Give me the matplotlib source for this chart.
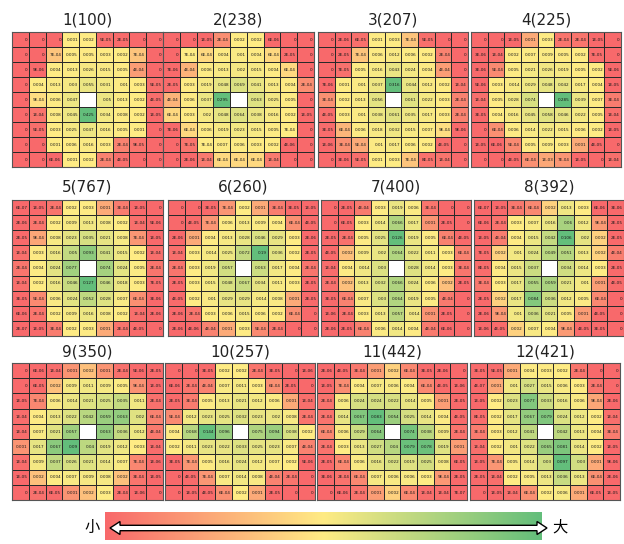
import numpy as np
import matplotlib
matplotlib.use("Agg")
import matplotlib.pyplot as plt
from matplotlib.colors import LinearSegmentedColormap, TwoSlopeNorm
from matplotlib.patches import Polygon

nan = np.nan

titles = ["1(100)", "2(238)", "3(207)", "4(225)",
          "5(767)", "6(260)", "7(400)", "8(392)",
          "9(350)", "10(257)", "11(442)", "12(421)"]

p1 = [[0, 0, 0, 0.001, 0.002, 5e-05, 2e-05, 0, 0],
      [0, 0, 7e-04, 0.005, 0.005, 0.003, 0.002, 7e-04, 0],
      [0, 9e-06, 0.004, 0.013, 0.026, 0.015, 0.005, 4e-04, 0],
      [0, 0.004, 0.013, 0.03, 0.055, 0.031, 0.01, 0.003, 5e-05],
      [0, 9e-04, 0.006, 0.047, nan, 0.05, 0.013, 0.002, 4e-05],
      [0, 1e-04, 0.008, 0.045, 0.425, 0.034, 0.008, 0.002, 1e-05],
      [0, 5e-05, 0.003, 0.025, 0.047, 0.016, 0.005, 0.001, 0],
      [0, 0, 0.001, 0.006, 0.016, 0.003, 2e-04, 9e-05, 0],
      [0, 0, 6e-06, 0.001, 0.002, 2e-04, 4e-05, 0, 0]]

p2 = [[0, 0, 1e-05, 2e-04, 0.002, 0.002, 6e-06, 0, 0],
      [0, 7e-04, 6e-04, 0.004, 0.01, 0.004, 6e-04, 2e-05, 0],
      [7e-06, 4e-04, 0.006, 0.013, 0.02, 0.015, 0.004, 6e-04, 0],
      [2e-05, 0.003, 0.019, 0.048, 0.069, 0.041, 0.013, 0.004, 2e-04],
      [4e-04, 0.006, 0.037, 0.295, nan, 0.063, 0.025, 0.005, 0],
      [6e-04, 0.003, 0.02, 0.048, 0.064, 0.038, 0.016, 0.002, 1e-05],
      [7e-06, 6e-04, 0.006, 0.019, 0.023, 0.015, 0.005, 7e-04, 0],
      [0, 7e-05, 7e-04, 0.007, 0.006, 0.003, 0.002, 4e-06, 0],
      [0, 2e-06, 1e-04, 6e-04, 6e-04, 6e-04, 1e-04, 0, 0]]

p3 = [[0, 2e-06, 6e-05, 0.001, 0.003, 7e-04, 5e-05, 0, 0],
      [0, 2e-05, 7e-04, 0.006, 0.012, 0.006, 0.002, 2e-04, 0],
      [0, 7e-05, 0.005, 0.016, 0.043, 0.024, 0.004, 4e-04, 0],
      [7e-06, 0.001, 0.01, 0.037, 0.316, 0.044, 0.012, 0.002, 1e-04],
      [3e-04, 0.002, 0.013, 0.056, nan, 0.061, 0.022, 0.003, 2e-04],
      [4e-05, 0.003, 0.01, 0.038, 0.061, 0.035, 0.017, 0.003, 2e-04],
      [3e-05, 6e-04, 0.006, 0.018, 0.032, 0.015, 0.007, 9e-04, 9e-06],
      [1e-06, 3e-04, 5e-04, 0.01, 0.017, 0.006, 0.002, 4e-05, 0],
      [0, 3e-06, 5e-05, 0.001, 0.003, 7e-04, 8e-05, 1e-04, 0]]

p4 = [[0, 0, 1e-05, 0.001, 0.003, 2e-04, 2e-04, 1e-05, 0],
      [3e-06, 1e-04, 0.002, 0.007, 0.009, 0.005, 0.002, 7e-05, 0],
      [3e-06, 5e-04, 0.005, 0.021, 0.026, 0.019, 0.005, 0.002, 5e-06],
      [5e-06, 0.003, 0.014, 0.029, 0.048, 0.042, 0.017, 0.004, 1e-05],
      [1e-04, 0.005, 0.028, 0.074, nan, 0.285, 0.039, 0.007, 3e-04],
      [3e-05, 0.004, 0.016, 0.045, 0.058, 0.046, 0.022, 0.005, 1e-04],
      [0, 6e-04, 0.006, 0.014, 0.022, 0.015, 0.006, 0.002, 1e-05],
      [1e-05, 6e-06, 5e-04, 0.005, 0.009, 0.003, 0.001, 4e-05, 0],
      [0, 0, 4e-05, 6e-04, 9.6e-04, 7e-04, 1e-05, 0, 1e-04]]

p5 = [[6e-07, 1e-05, 2e-04, 0.002, 0.003, 0.001, 3e-04, 1e-05, 0],
      [2e-06, 2e-04, 0.002, 0.009, 0.013, 0.008, 0.002, 1e-04, 5e-06],
      [2e-05, 9.5e-04, 0.008, 0.023, 0.035, 0.021, 0.008, 7e-04, 1e-05],
      [1e-04, 0.003, 0.016, 0.05, 0.093, 0.041, 0.015, 0.002, 1e-04],
      [2e-04, 0.004, 0.024, 0.077, nan, 0.074, 0.024, 0.005, 2e-04],
      [1e-04, 0.002, 0.016, 0.046, 0.127, 0.046, 0.018, 0.003, 7e-05],
      [3e-05, 5e-04, 0.006, 0.024, 0.052, 0.028, 0.007, 6e-04, 3e-06],
      [6e-06, 2e-04, 0.002, 0.009, 0.016, 0.008, 0.002, 1e-04, 2e-06],
      [2e-07, 1e-05, 3e-04, 0.002, 0.003, 0.001, 2e-04, 4e-05, 0]]

p6 = [[0, 0, 3e-05, 7e-04, 0.002, 0.001, 3e-04, 3e-05, 1e-05],
      [0, 4e-05, 7e-04, 0.006, 0.013, 0.009, 0.004, 6e-04, 4e-05],
      [2e-06, 0.001, 0.004, 0.013, 0.028, 0.046, 0.029, 0.003, 2e-06],
      [1e-04, 0.003, 0.014, 0.025, 0.072, 0.19, 0.036, 0.002, 2e-05],
      [2e-04, 0.003, 0.019, 0.057, nan, 0.063, 0.017, 0.004, 2e-04],
      [2e-05, 0.003, 0.015, 0.048, 0.067, 0.034, 0.011, 0.003, 2e-05],
      [4e-05, 0.002, 0.01, 0.029, 0.029, 0.014, 0.008, 0.001, 2e-05],
      [2e-06, 2e-04, 0.003, 0.006, 0.015, 0.006, 0.002, 6e-04, 0],
      [2e-06, 4e-06, 4e-04, 0.001, 0.003, 5e-04, 2e-04, 0, 0]]

p7 = [[0, 2e-05, 4e-04, 0.003, 0.019, 0.006, 3e-04, 0, 0],
      [0, 6e-05, 0.003, 0.014, 0.066, 0.017, 0.001, 2e-05, 0],
      [2e-05, 2e-04, 0.005, 0.025, 0.126, 0.019, 0.005, 6e-04, 4e-05],
      [4e-05, 0.002, 0.009, 0.02, 0.064, 0.022, 0.011, 0.003, 6e-04],
      [1e-04, 0.004, 0.014, 0.03, nan, 0.028, 0.014, 0.003, 3e-04],
      [2e-04, 0.002, 0.013, 0.032, 0.066, 0.024, 0.006, 0.002, 2e-05],
      [3e-05, 6e-04, 0.007, 0.03, 0.064, 0.019, 0.005, 4e-04, 0],
      [1e-06, 2e-04, 0.003, 0.013, 0.057, 0.014, 0.001, 2e-05, 0],
      [2e-06, 2e-05, 6e-04, 0.006, 0.014, 0.004, 4e-04, 6e-06, 0]]

p8 = [[6e-07, 1e-05, 3e-04, 6e-04, 0.002, 0.013, 0.003, 6e-06, 3e-06],
      [6e-06, 2e-04, 0.003, 0.007, 0.016, 0.06, 0.012, 9.5e-04, 2e-05],
      [1e-05, 4e-04, 0.004, 0.015, 0.042, 0.106, 0.02, 0.002, 2e-05],
      [7e-05, 0.002, 0.01, 0.024, 0.049, 0.051, 0.013, 0.002, 4e-04],
      [8e-05, 0.004, 0.015, 0.037, nan, 0.034, 0.014, 0.003, 2e-05],
      [3e-04, 0.003, 0.017, 0.055, 0.059, 0.021, 0.01, 0.001, 4e-05],
      [2e-05, 0.002, 0.017, 0.084, 0.036, 0.012, 0.005, 6e-04, 0],
      [2e-06, 9e-04, 0.01, 0.036, 0.021, 0.005, 0.001, 4e-05, 0],
      [1e-06, 4e-05, 0.002, 0.007, 0.004, 9.5e-04, 4e-05, 3e-05, 0]]

p9 = [[0, 6e-06, 1e-04, 0.001, 0.002, 0.001, 2e-04, 5e-06, 2e-05],
      [0, 6e-05, 0.002, 0.009, 0.011, 0.009, 0.005, 9.5e-04, 1e-05],
      [1e-05, 7e-04, 0.006, 0.014, 0.021, 0.025, 0.035, 0.011, 2e-04],
      [1e-04, 0.004, 0.013, 0.022, 0.042, 0.059, 0.063, 0.02, 6e-04],
      [1e-04, 0.007, 0.021, 0.057, nan, 0.063, 0.036, 0.012, 4e-04],
      [0.001, 0.017, 0.067, 0.09, 0.04, 0.019, 0.012, 0.003, 1e-04],
      [1e-04, 0.009, 0.037, 0.026, 0.021, 0.014, 0.007, 7e-04, 1e-06],
      [1e-05, 0.002, 0.004, 0.007, 0.009, 0.008, 0.002, 3e-04, 1e-05],
      [0, 2e-04, 6e-05, 0.001, 0.002, 0.003, 2e-04, 1e-06, 0]]

p10 = [[0, 0, 3e-05, 0.002, 0.002, 2e-04, 3e-05, 0, 1e-06],
       [6e-06, 2e-04, 4e-04, 0.007, 0.011, 0.003, 6e-04, 2e-05, 0],
       [2e-05, 3e-04, 0.005, 0.013, 0.021, 0.012, 0.006, 0.001, 1e-04],
       [5e-04, 0.012, 0.023, 0.025, 0.032, 0.023, 0.02, 0.008, 2e-04],
       [0.004, 0.068, 0.144, 0.096, nan, 0.075, 0.094, 0.038, 0.002],
       [0.002, 0.011, 0.023, 0.022, 0.033, 0.025, 0.023, 0.007, 4e-04],
       [3e-05, 7e-04, 0.005, 0.016, 0.024, 0.012, 0.007, 0.002, 5e-06],
       [0, 4e-05, 7e-04, 0.007, 0.014, 0.008, 4e-04, 2e-04, 0],
       [0, 1e-05, 4e-05, 6e-04, 0.002, 0.001, 2e-05, 0, 0]]

p11 = [[2e-06, 4e-05, 3e-04, 0.001, 0.002, 6e-04, 3e-05, 2e-06, 0],
       [1e-05, 7e-04, 0.004, 0.007, 0.006, 0.004, 6e-04, 4e-05, 1e-06],
       [2e-04, 0.006, 0.024, 0.024, 0.022, 0.014, 0.005, 0.001, 2e-05],
       [2e-04, 0.014, 0.067, 0.083, 0.054, 0.025, 0.014, 0.004, 4e-05],
       [6e-04, 0.006, 0.029, 0.064, nan, 0.074, 0.038, 0.009, 2e-04],
       [2e-04, 0.003, 0.013, 0.027, 0.04, 0.079, 0.078, 0.019, 0.001],
       [2e-05, 6e-04, 0.006, 0.016, 0.022, 0.019, 0.025, 0.008, 6e-05],
       [3e-06, 2e-04, 6e-04, 0.007, 0.006, 0.006, 0.003, 9e-04, 2e-05],
       [0, 6e-06, 2e-04, 0.001, 0.002, 6e-04, 1e-04, 1e-04, 7e-07]]

p12 = [[3e-05, 5e-05, 0.001, 0.004, 0.003, 0.002, 2e-04, 0, 0],
       [4e-07, 0.001, 0.01, 0.027, 0.015, 0.006, 0.003, 2e-04, 0],
       [1e-05, 0.002, 0.023, 0.077, 0.033, 0.016, 0.006, 9.5e-04, 2e-06],
       [8e-05, 0.002, 0.017, 0.067, 0.079, 0.024, 0.012, 0.002, 1e-04],
       [3e-04, 0.003, 0.012, 0.041, nan, 0.042, 0.013, 0.004, 3e-04],
       [1e-04, 0.002, 0.01, 0.022, 0.065, 0.081, 0.014, 0.002, 1e-05],
       [1e-05, 7e-04, 0.005, 0.014, 0.03, 0.097, 0.03, 0.001, 9e-06],
       [2e-05, 1e-04, 0.002, 0.005, 0.013, 0.036, 0.013, 6e-04, 2e-06],
       [0, 1e-05, 1e-04, 6e-04, 0.002, 0.006, 0.001, 6e-05, 1e-05]]

panels = [p1, p2, p3, p4, p5, p6, p7, p8, p9, p10, p11, p12]

W, H = 624, 544
# pixel boxes (left, top, right, bottom) of each grid
boxes = [(12, 32, 163, 167), (163, 32, 314, 167), (318, 32, 468, 167), (471, 32, 621, 167),
         (12, 200, 163, 336), (168, 200, 318, 336), (321, 200, 471, 336), (474, 200, 624, 336),
         (12, 363, 163, 500), (165, 363, 315, 500), (317, 363, 467, 500), (470, 363, 620, 500)]
title_y = [20, 20, 20, 20, 187, 187, 187, 187, 352, 352, 352, 352]

cmap = LinearSegmentedColormap.from_list("rgy", ["#F8696B", "#FFEB84", "#63BE7B"])


def fmt(v):
    if v == 0:
        return "0"
    if v < 0.001:
        return f"{v:.0E}"
    return f"{v:.3f}".rstrip("0").rstrip(".")


fig = plt.figure(figsize=(W / 100, H / 100), dpi=100)

for k, p in enumerate(panels):
    data = np.array(p, dtype=float)
    vals = data[~np.isnan(data)]
    vmin, vmax = vals.min(), vals.max()
    med = np.percentile(vals, 50)
    if med <= vmin:
        med = vmin + 1e-9
    norm = TwoSlopeNorm(vmin=vmin, vcenter=med, vmax=vmax)

    l, t, r, b = boxes[k]
    ax = fig.add_axes([l / W, 1 - b / H, (r - l) / W, (b - t) / H])
    ax.pcolormesh(np.ma.masked_invalid(data), cmap=cmap, norm=norm,
                  edgecolors="#2a2a2a", linewidth=0.6)
    ax.set_xlim(0, 9)
    ax.set_ylim(9, 0)
    ax.set_xticks([])
    ax.set_yticks([])
    for s in ax.spines.values():
        s.set_color("#555555")
        s.set_linewidth(0.8)
    for i in range(9):
        for j in range(9):
            v = data[i, j]
            if np.isnan(v):
                continue
            ax.text(j + 0.93, i + 0.52, fmt(v), ha="right", va="center",
                    fontsize=3.0, color="#1a1a1a")
    fig.text((l + r) / 2 / W, 1 - title_y[k] / H, titles[k], ha="center", va="center",
             fontsize=11, color="#222222")

# colour scale bar at the bottom
cax = fig.add_axes([105 / W, 1 - 540 / H, (542 - 105) / W, 28 / H])
cax.imshow(np.linspace(0, 1, 256)[None, :], aspect="auto", cmap=cmap, extent=(0, 1, 0, 1))
cax.axis("off")

ov = fig.add_axes([0, 0, 1, 1], zorder=5)
ov.set_xlim(0, W)
ov.set_ylim(H, 0)
ov.axis("off")
ov.patch.set_alpha(0)
arrow = Polygon([(110, 528), (120, 521.5), (120, 525.3), (537, 525.3), (537, 521.5), (547, 528),
                 (537, 534.5), (537, 530.7), (120, 530.7), (120, 534.5)],
                closed=True, facecolor="white", edgecolor="black", linewidth=1.0)
ov.add_patch(arrow)
ov.text(92, 527, "小", fontfamily=["Noto Sans CJK SC", "DejaVu Sans"], fontsize=11,
        ha="center", va="center")
ov.text(560, 527, "大", fontfamily=["Noto Sans CJK SC", "DejaVu Sans"], fontsize=11,
        ha="center", va="center")

fig.savefig("out.png", dpi=100)
